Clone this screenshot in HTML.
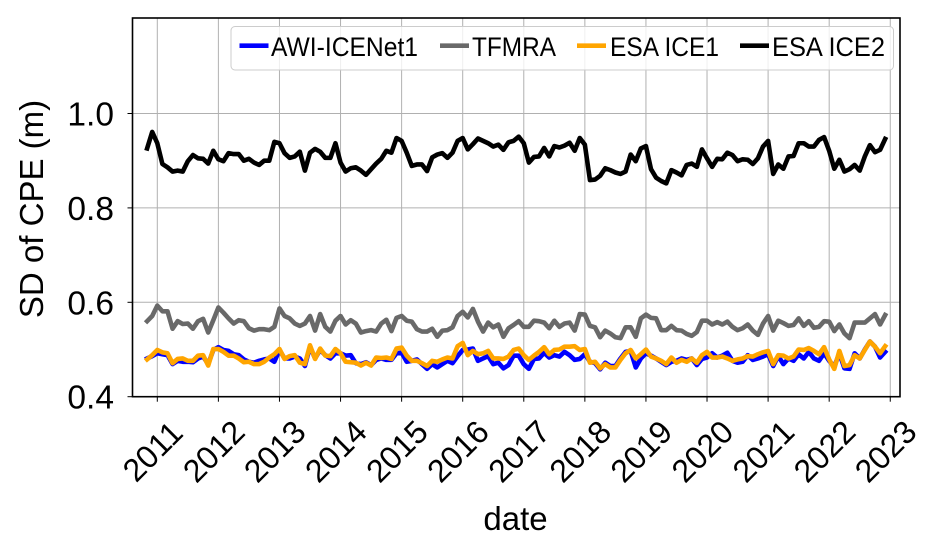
<!DOCTYPE html>
<html>
<head>
<meta charset="utf-8">
<title>SD of CPE chart</title>
<style>
html,body{margin:0;padding:0;background:#fff;}
svg{display:block;}
text{font-family:"Liberation Sans",Arial,sans-serif;fill:#000;}
</style>
</head>
<body>
<svg id="chart" xmlns="http://www.w3.org/2000/svg" width="937" height="550" viewBox="0 0 937 550"></svg>
<script>
var startYear = 2010;
var startMonth = 11;
var yearTicks = [2011,2012,2013,2014,2015,2016,2017,2018,2019,2020,2021,2022,2023];
var valueTicks = [0.4,0.6,0.8,1.0];
var valueTickLabels = ["0.4","0.6","0.8","1.0"];
var awiIceNet1 = [.481,.486,.492,.490,.488,.469,.476,.474,.474,.473,.481,.485,.469,.499,.505,.499,.497,.490,.488,.479,.474,.472,.476,.479,.481,.474,.499,.481,.481,.485,.481,.465,.506,.481,.499,.488,.481,.492,.492,.487,.488,.471,.469,.473,.467,.478,.481,.478,.478,.492,.493,.474,.476,.479,.469,.459,.469,.462,.469,.476,.471,.486,.499,.500,.502,.476,.481,.486,.469,.472,.460,.467,.487,.487,.469,.459,.480,.481,.493,.483,.488,.485,.495,.488,.478,.480,.490,.474,.471,.458,.472,.465,.465,.481,.495,.497,.462,.481,.492,.487,.481,.474,.467,.474,.476,.481,.478,.481,.467,.480,.483,.492,.483,.487,.493,.476,.472,.474,.488,.478,.481,.485,.490,.465,.486,.469,.481,.476,.490,.481,.495,.481,.476,.492,.476,.464,.492,.460,.459,.492,.481,.500,.517,.506,.483,.495];
var tfmra = [.560,.571,.593,.581,.581,.544,.560,.554,.555,.544,.560,.565,.536,.562,.589,.578,.566,.555,.562,.560,.545,.540,.543,.543,.541,.548,.587,.571,.566,.555,.550,.555,.571,.540,.575,.548,.538,.561,.571,.553,.562,.555,.536,.539,.541,.538,.555,.563,.539,.567,.571,.561,.559,.543,.538,.538,.544,.527,.540,.541,.547,.571,.580,.568,.586,.559,.538,.557,.547,.553,.527,.545,.552,.560,.548,.548,.561,.560,.557,.545,.561,.548,.555,.557,.540,.575,.574,.550,.547,.526,.540,.534,.526,.524,.547,.547,.527,.566,.574,.567,.566,.541,.541,.550,.541,.540,.533,.529,.537,.561,.561,.553,.558,.553,.559,.548,.541,.545,.553,.540,.531,.555,.571,.540,.561,.556,.550,.552,.566,.550,.560,.546,.548,.560,.559,.539,.553,.534,.524,.557,.557,.557,.566,.575,.553,.573];
var esaIce1 = [.479,.488,.499,.494,.492,.471,.480,.481,.476,.476,.487,.488,.466,.501,.501,.495,.487,.487,.481,.473,.474,.469,.469,.474,.483,.490,.501,.480,.486,.488,.472,.469,.509,.480,.502,.487,.486,.501,.492,.474,.473,.472,.466,.472,.466,.483,.482,.483,.480,.502,.504,.487,.476,.476,.471,.465,.476,.474,.479,.483,.481,.507,.514,.488,.497,.490,.492,.497,.481,.481,.480,.485,.499,.502,.488,.478,.487,.495,.505,.490,.499,.500,.506,.506,.507,.499,.501,.472,.474,.460,.469,.462,.462,.478,.492,.499,.481,.490,.500,.485,.481,.476,.469,.483,.472,.478,.474,.481,.472,.488,.495,.483,.483,.485,.481,.476,.479,.481,.486,.485,.490,.494,.497,.469,.488,.487,.481,.485,.500,.499,.503,.497,.490,.505,.479,.459,.497,.465,.467,.488,.481,.499,.517,.506,.492,.507];
var esaIce2 = [.926,.961,.937,.893,.886,.877,.879,.877,.899,.912,.905,.904,.894,.921,.903,.899,.916,.914,.914,.900,.904,.896,.891,.900,.900,.940,.937,.916,.906,.909,.919,.879,.917,.925,.919,.906,.906,.937,.896,.877,.884,.886,.879,.870,.882,.894,.904,.921,.917,.948,.942,.917,.889,.892,.892,.878,.907,.913,.916,.906,.917,.942,.948,.924,.935,.947,.942,.937,.930,.934,.923,.939,.942,.951,.937,.896,.908,.909,.927,.909,.931,.928,.932,.938,.921,.948,.934,.859,.860,.868,.884,.880,.875,.872,.877,.913,.899,.926,.931,.882,.864,.857,.852,.880,.875,.869,.891,.894,.887,.924,.905,.887,.904,.903,.917,.912,.899,.903,.902,.893,.905,.930,.942,.872,.892,.883,.909,.910,.937,.937,.930,.930,.944,.950,.921,.883,.902,.877,.882,.891,.879,.909,.933,.918,.923,.946];
var seriesNames = ["AWI-ICENet1","TFMRA","ESA ICE1","ESA ICE2"];
var seriesColors = ["#0000ff","#696969","#ffa500","#000000"];

var NS = "http://www.w3.org/2000/svg";
var svg = document.getElementById("chart");
var plotLeft = 132.5, plotRight = 900, plotTop = 18, plotBottom = 396.7;
function xScale(yearFloat){ return 157.3 + (yearFloat - 2011) * 61.08; }
function yScale(v){ return 396.7 - (v - 0.4) * 472; }
function make(tag, attrs, parent){
  var el = document.createElementNS(NS, tag);
  for (var k in attrs) el.setAttribute(k, attrs[k]);
  (parent || svg).appendChild(el);
  return el;
}
var plotArea = make("rect", {x:plotLeft,y:plotTop,width:plotRight-plotLeft,height:plotBottom-plotTop,fill:"#fff"});



yearTicks.forEach(function(yr){
  var x = xScale(yr);
  var g = make("line", {x1:x,x2:x,y1:plotTop,y2:plotBottom,stroke:"#b0b0b0","stroke-width":1});
  
  
  var t = make("line", {x1:x,x2:x,y1:plotBottom,y2:plotBottom+5,stroke:"#000","stroke-width":1});
  
  
  var cx = x - 5, cy = 451;
  var lab = make("text", {x:cx,y:cy+11.5,"font-size":32,"text-anchor":"middle",transform:"rotate(-45 "+cx+" "+cy+")"});
  
  
  lab.textContent = String(yr);
});
valueTicks.forEach(function(v,i){
  var y = yScale(v);
  if (i > 0) {
    var g = make("line", {x1:plotLeft,x2:plotRight,y1:y,y2:y,stroke:"#b0b0b0","stroke-width":1});
    
    
  }
  var t = make("line", {x1:plotLeft-5,x2:plotLeft,y1:y,y2:y,stroke:"#000","stroke-width":1});
  
  
  var lab = make("text", {x:114,y:y+12,"font-size":33.5,"text-anchor":"end"});
  
  
  lab.textContent = valueTickLabels[i];
});

[awiIceNet1, tfmra, esaIce1, esaIce2].forEach(function(vals, s){
  var pts = vals.map(function(v,i){
    return xScale(startYear + (startMonth - 1 + i) / 12).toFixed(2) + "," + yScale(v).toFixed(2);
  }).join(" ");
  var line = make("polyline", {points:pts,fill:"none",stroke:seriesColors[s],"stroke-width":4.6,"stroke-linejoin":"round","stroke-linecap":"square"});
  
  
});

var frame = make("rect", {x:plotLeft,y:plotTop,width:plotRight-plotLeft,height:plotBottom-plotTop,fill:"none",stroke:"#000","stroke-width":1.6});



var legendBox = make("rect", {x:231,y:26.5,width:662.5,height:43.5,rx:4,ry:4,fill:"#fff","fill-opacity":0.8,stroke:"#cccccc","stroke-width":1});


var legendLineX = [239.5,440,577,740];
var legendTextX = [271,472,610,772];
var legendTextW = [147,84,109,113];
seriesNames.forEach(function(name,i){
  var l = make("line", {x1:legendLineX[i],x2:legendLineX[i]+29,y1:45.7,y2:45.7,stroke:seriesColors[i],"stroke-width":4.6});
  
  
  var t = make("text", {x:legendTextX[i],y:56,"font-size":27,textLength:legendTextW[i],lengthAdjust:"spacingAndGlyphs"});
  
  
  t.textContent = name;
});

var xTitle = make("text", {x:515.5,y:530,"font-size":33,"text-anchor":"middle"});


xTitle.textContent = "date";
var yTitle = make("text", {x:43,y:209,"font-size":33,"text-anchor":"middle",transform:"rotate(-90 43 209)"});


yTitle.textContent = "SD of CPE (m)";
</script>
</body>
</html>
